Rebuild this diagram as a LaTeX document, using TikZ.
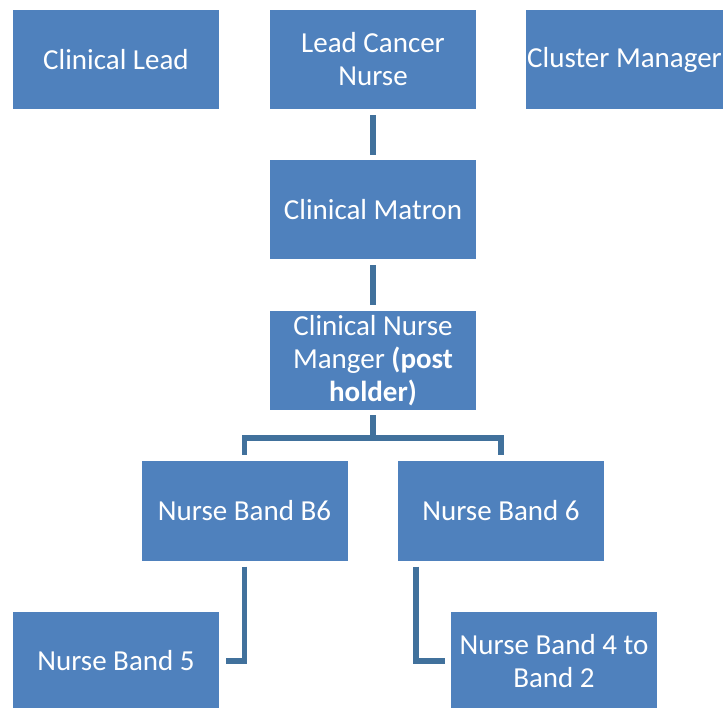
\documentclass[tikz,border=0pt]{standalone}
\usepackage{fontspec}
\setmainfont{Carlito}
\usepackage{xcolor}
\usetikzlibrary{positioning, calc, arrows.meta}
\definecolor{boxblue}{HTML}{4F81BD}
\definecolor{lineblue}{HTML}{41719C}

\begin{document}
\begin{tikzpicture}
      [x=1pt, y=-1pt, inner xsep=1pt,
       post/.style={rectangle,fill=boxblue,text=white,minimum width=206pt,
         minimum height=99pt,align=center,font=\fontsize{29}{33}\selectfont},
       link/.style={draw=lineblue,line width=5.5pt}]
        \clip (0,0) rectangle (726,708);
        \node (CL) at (116,59.5) [post] {Clinical Lead};
        \node (LCN) at (373,59.5) [post] {Lead Cancer\\Nurse};
        \node (CM) at (624.5,59.5) [post, minimum width=195pt] {Cluster Manager};
        \node (MAT) at (373,209.5) [post] {Clinical Matron};
        \node (CNM) at (373,360.5) [post] {Clinical Nurse\\Manger \textbf{(post}\\\textbf{holder)}};
        \node (B6) at (244.5,511) [post] {Nurse Band B6};
        \node (N6) at (501,511) [post] {Nurse Band 6};
        \node (N5) at (116,661) [post] {Nurse Band 5};
        \node (N4) at (554,661) [post] {Nurse Band 4 to\\Band 2};

        \draw[link] ([yshift=-6pt]LCN.south) -- ([yshift=5pt]MAT.north);
        \draw[link] ([yshift=-6pt]MAT.south) -- ([yshift=6pt]CNM.north);
        \draw[link] ([yshift=-5pt]CNM.south) -- ++(0,23) coordinate (fork)
          -| ([yshift=6pt]B6.north);
        \draw[link] (fork) -| ([yshift=6pt]N6.north);
        \draw[link] ([yshift=-6pt]B6.south) |- ([xshift=7pt]N5.east);
        \draw[link] ([xshift=18pt,yshift=-6pt]N6.south west) |- ([xshift=-6pt]N4.west);
      \end{tikzpicture}
\end{document}
